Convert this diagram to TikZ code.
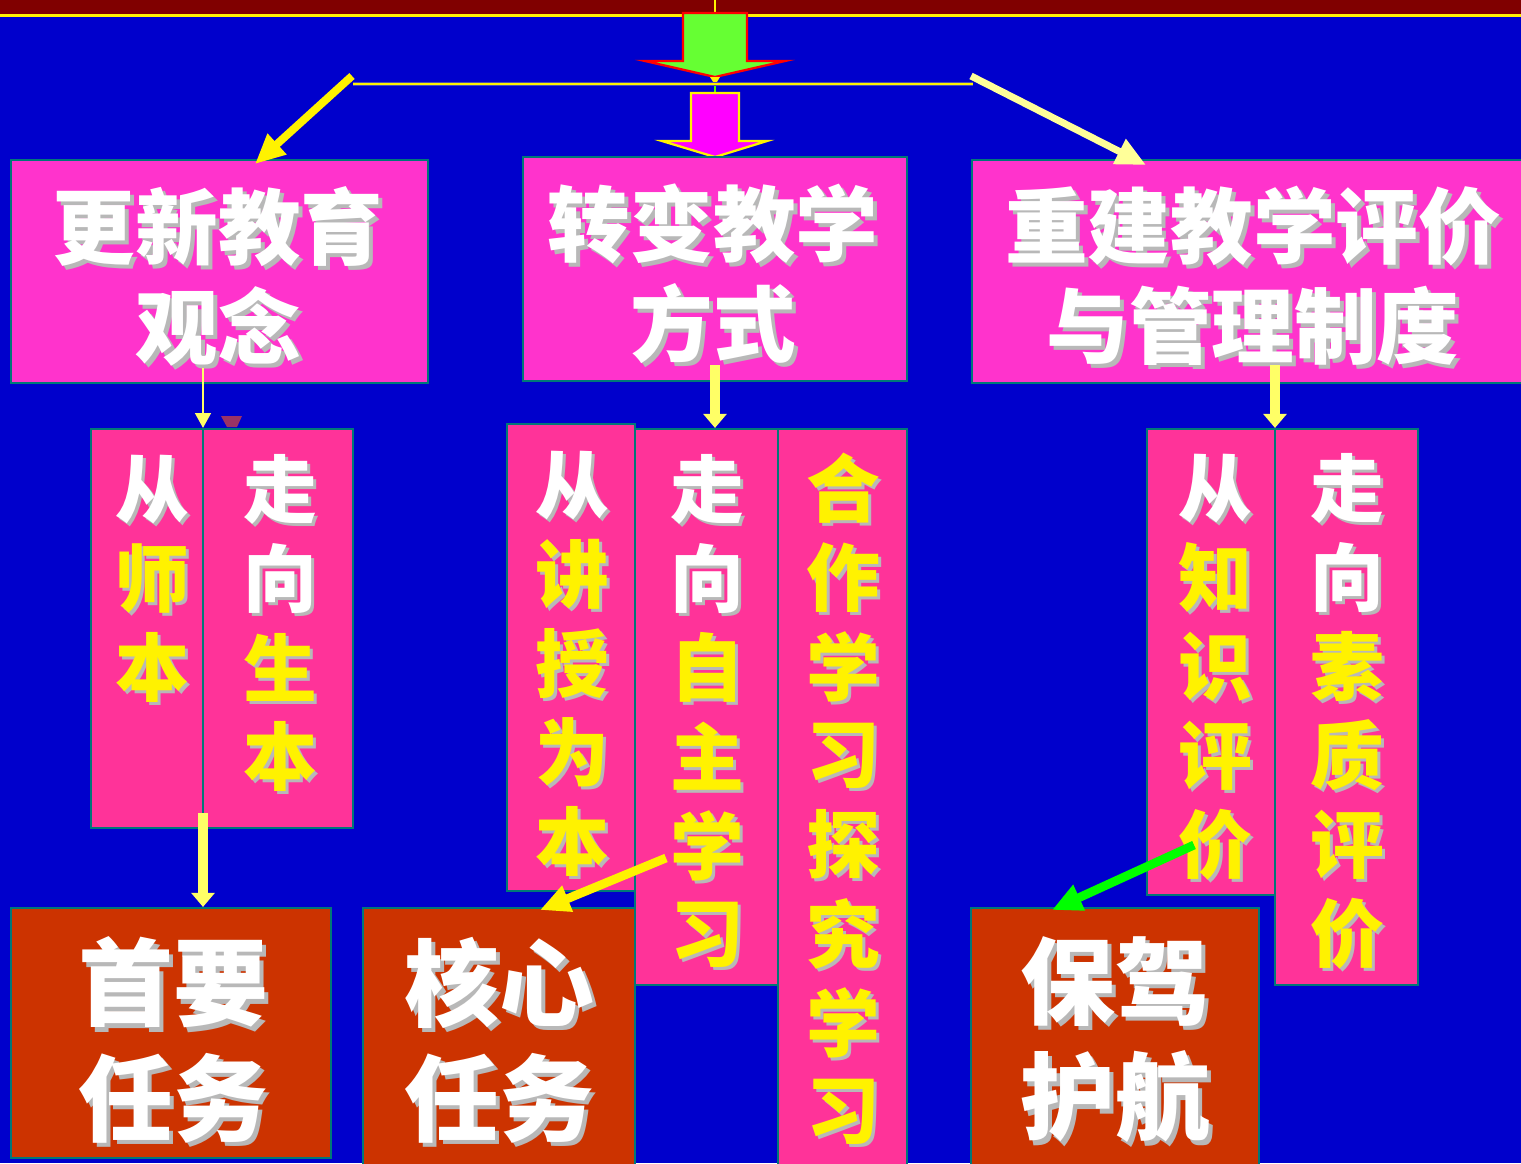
\documentclass[tikz,border=0pt]{standalone}
\usepackage{fontspec}
\newfontfamily\cjk{Noto Sans CJK SC}
\usetikzlibrary{arrows.meta,fit}
\definecolor{bgblue}{HTML}{0000CC}
\definecolor{band}{HTML}{800000}
\definecolor{pinkA}{HTML}{FF33CC}
\definecolor{pinkB}{HTML}{FF3399}
\definecolor{brick}{HTML}{CC3300}
\definecolor{edge}{HTML}{007878}
\definecolor{lyellow}{HTML}{FFFF66}
\definecolor{pyellow}{HTML}{FFFF99}
\definecolor{lgreen}{HTML}{66FF33}
\definecolor{agreen}{HTML}{00FF00}
\definecolor{pmagenta}{HTML}{FF00FF}
\definecolor{shade}{HTML}{B8B8B8}
\definecolor{marker}{HTML}{993366}
% text with a drop shadow, in one node
\newcommand\shd[2]{\rlap{\kern#1\raisebox{-#1}{\textcolor{shade}{#2}}}#2}
\newcommand\colchars[4]{%
  \foreach \ch/\cl [count=\i from 0] in {#4} {
    \node[coltxt, text=\cl] (#1-\i) at ({#2},{#3+89*\i}) {\shd{1.7pt}{\ch}};
  }}
\begin{document}
\begin{tikzpicture}[x=0.02cm,y=-0.02cm,
  topbox/.style={draw=edge, line width=1.2pt, fill=pinkA, inner sep=0pt},
  colbox/.style={draw=edge, line width=1.2pt, fill=pinkB, inner sep=0pt},
  taskbox/.style={draw=edge, line width=1.2pt, fill=brick, inner sep=0pt},
  bigtxt/.style={font={\cjk\bfseries\fontsize{47}{57}\selectfont}, align=center, inner sep=0pt, text=white},
  tasktxt/.style={font={\cjk\bfseries\fontsize{54}{65.5}\selectfont}, align=center, inner sep=0pt, text=white},
  coltxt/.style={font={\cjk\bfseries\fontsize{42}{50}\selectfont}, inner sep=0pt},
  slant/.style={line width=4.5pt, -{Triangle[length=17pt,width=15pt]}},
  vfat/.style={draw=lyellow, line width=5.5pt, -{Triangle[length=8pt,width=13pt]}},
  vthin/.style={draw=lyellow, line width=1.2pt, -{Triangle[length=8.5pt,width=9pt]}},
]
\useasboundingbox (0,0) rectangle (1521,1163);
\clip (0,0) rectangle (1521,1163);
\fill[bgblue] (0,0) rectangle (1521,1163);
% top band
\fill[band] (0,0) rectangle (1521,14);
\fill[yellow] (0,14) rectangle (1521,17);
\draw[yellow, line width=1pt] (715,0) -- (715,13);

% block arrows
\draw[fill=lgreen, draw=red, line width=1.3pt, line join=miter]
  (683,13) -- (747,13) -- (747,61) -- (785,61) -- (715,77) -- (645,61) -- (683,61) -- cycle;
\draw[agreen!70!yellow, line width=1pt] (715,78) -- (715,93);
\fill[yellow] (710,77) -- (720,77) -- (715,85) -- cycle;
\draw[fill=pmagenta, draw=yellow, line width=1.3pt]
  (691,93) -- (739,93) -- (739,141) -- (767,141) -- (715,157) -- (662,141) -- (691,141) -- cycle;

% horizontal line
\coordinate (hl) at (353,84);
\coordinate (hr) at (973,84);
\draw[gray!60!blue, line width=2.6pt] (hl) -- (hr);
\draw[yellow, line width=1.4pt] (hl) -- (hr);

% top boxes
\node[topbox, fit={(11,160) (428,383)}] (t1) {};
\node[topbox, fit={(523,157) (907,381)}] (t2) {};
\node[topbox, fit={(972,160) (1540,383)}] (t3) {};
\node[bigtxt] (t1txt) at (218,278) {\shd{2.3pt}{更新教育}\\\shd{2.3pt}{观念}};
\node[bigtxt] (t2txt) at (713,276) {\shd{2.3pt}{转变教学}\\\shd{2.3pt}{方式}};
\node[bigtxt] (t3txt) at (1253,278) {\shd{2.3pt}{重建教学评价}\\\shd{2.3pt}{与管理制度}};

% slanted arrows from the horizontal line
\coordinate (la) at (352,76);
\coordinate (lt) at (255,164);
\coordinate (ra) at (971,76);
\coordinate (rt) at (1146,165);
\draw[slant, draw=yellow, fill=yellow] (la) -- (lt);
\draw[slant, draw=pyellow, fill=pyellow, line width=4pt] (ra) -- (rt);

% column boxes
\node[colbox, fit={(91,429) (203,828)}] (l1) {};
\node[colbox, fit={(203,429) (353,828)}] (l2) {};
\node[colbox, fit={(507,424) (635,891)}] (m1) {};
\node[colbox, fit={(635,429) (778,985)}] (m2) {};
\node[colbox, fit={(778,429) (907,1175)}] (m3) {};
\node[colbox, fit={(1147,429) (1275,895)}] (r1) {};
\node[colbox, fit={(1275,429) (1418,985)}] (r2) {};

\colchars{l1c}{152}{491}{从/white,师/yellow,本/yellow}
\colchars{l2c}{280}{491}{走/white,向/white,生/yellow,本/yellow}
\colchars{m1c}{572}{487}{从/white,讲/yellow,授/yellow,为/yellow,本/yellow}
\colchars{m2c}{707}{491}{走/white,向/white,自/yellow,主/yellow,学/yellow,习/yellow}
\colchars{m3c}{843}{490}{合/yellow,作/yellow,学/yellow,习/yellow,探/yellow,究/yellow,学/yellow,习/yellow}
\colchars{r1c}{1215}{490}{从/white,知/yellow,识/yellow,评/yellow,价/yellow}
\colchars{r2c}{1347}{490}{走/white,向/white,素/yellow,质/yellow,评/yellow,价/yellow}

% task boxes
\node[taskbox, fit={(11,908) (331,1158)}] (b1) {};
\node[taskbox, fit={(363,908) (635,1175)}] (b2) {};
\node[taskbox, fit={(971,908) (1259,1175)}] (b3) {};
\node[tasktxt] (b1txt) at (173,1042) {\shd{2.3pt}{首要}\\\shd{2.3pt}{任务}};
\node[tasktxt] (b2txt) at (499,1042) {\shd{2.3pt}{核心}\\\shd{2.3pt}{任务}};
\node[tasktxt] (b3txt) at (1115,1042) {\shd{2.3pt}{保驾}\\\shd{2.3pt}{护航}};

% vertical connectors
\coordinate (s1) at (203,368);
\draw[vthin] (s1) -- (s1 |- l1.north);
\fill[marker] (221,416) -- (242,416) -- (237,427) -- (227,427) -- cycle;
\coordinate (s2) at (715,365);
\draw[vfat] (s2) -- (s2 |- m2.north);
\coordinate (s3) at (1275,365);
\draw[vfat] (s3) -- (s3 |- r2.north);
\coordinate (s4) at (203,813);
\draw[vfat] (s4) -- (s4 |- b1.north);

% slanted connectors to task boxes
\coordinate (m2a) at (666,858);
\coordinate (b2t) at (540,910);
\draw[slant, draw=yellow, line width=5pt] (m2a) -- (b2t);
\coordinate (r1a) at (1194,845);
\coordinate (b3t) at (1052,910);
\draw[slant, draw=agreen, line width=5pt] (r1a) -- (b3t);
\end{tikzpicture}
\end{document}
